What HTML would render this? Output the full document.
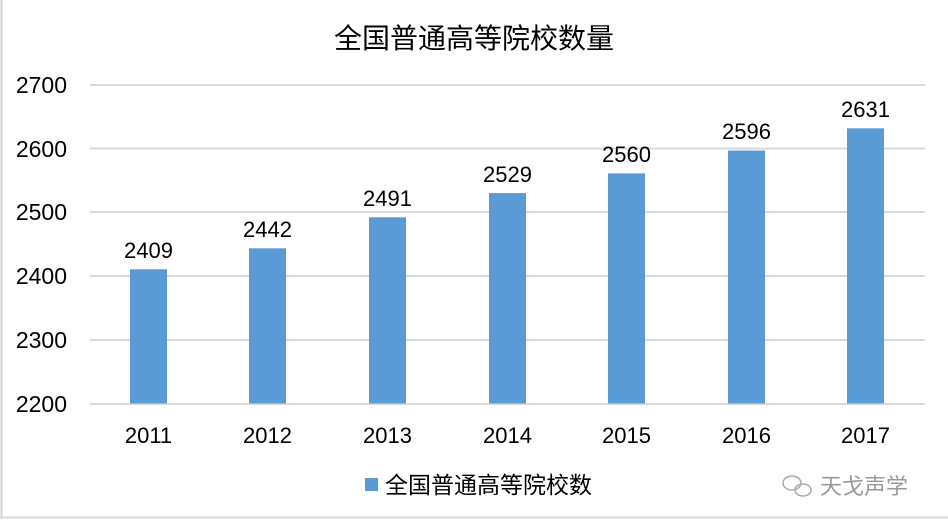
<!DOCTYPE html>
<html><head><meta charset="utf-8"><style>
body{margin:0;background:#fff}
svg text{font-family:"Liberation Sans","Noto Sans CJK SC",sans-serif;fill:#000}
</style></head><body>
<svg width="948" height="519" xmlns="http://www.w3.org/2000/svg">
<rect width="948" height="519" fill="#fff"/>
<line x1="1.5" y1="0" x2="1.5" y2="519" stroke="#d0d0d0" stroke-width="2"/>
<line x1="0" y1="517.5" x2="948" y2="517.5" stroke="#d9d9d9" stroke-width="2"/>
<text x="474" y="48" font-size="28" text-anchor="middle">全国普通高等院校数量</text>
<g stroke="#d9d9d9" stroke-width="2">
<line x1="90" y1="85" x2="925" y2="85"/>
<line x1="90" y1="148.5" x2="925" y2="148.5"/>
<line x1="90" y1="212" x2="925" y2="212"/>
<line x1="90" y1="276" x2="925" y2="276"/>
<line x1="90" y1="340" x2="925" y2="340"/>
<line x1="90" y1="404" x2="925" y2="404"/>
</g>
<g font-size="23" text-anchor="end">
<text x="67" y="93">2700</text>
<text x="67" y="157">2600</text>
<text x="67" y="220">2500</text>
<text x="67" y="284">2400</text>
<text x="67" y="348">2300</text>
<text x="67" y="412">2200</text>
</g>
<g fill="#5b9bd5">
<rect x="130" y="269.3" width="37" height="134.2"/>
<rect x="249" y="248.3" width="37" height="155.2"/>
<rect x="369" y="217.3" width="37" height="186.2"/>
<rect x="489" y="193.1" width="37" height="210.4"/>
<rect x="608" y="173.4" width="37" height="230.1"/>
<rect x="728" y="150.5" width="37" height="253"/>
<rect x="847" y="128.3" width="37" height="275.2"/>
</g>
<g font-size="22" text-anchor="middle">
<text x="148.5" y="258">2409</text>
<text x="267.5" y="237">2442</text>
<text x="387.5" y="206">2491</text>
<text x="507.5" y="182">2529</text>
<text x="626.5" y="162">2560</text>
<text x="746.5" y="139">2596</text>
<text x="865.5" y="117">2631</text>
</g>
<g font-size="22" text-anchor="middle">
<text x="148.5" y="443">2011</text>
<text x="267.5" y="443">2012</text>
<text x="387.5" y="443">2013</text>
<text x="507.5" y="443">2014</text>
<text x="626.5" y="443">2015</text>
<text x="746.5" y="443">2016</text>
<text x="865.5" y="443">2017</text>
</g>
<rect x="365" y="478" width="13" height="13" fill="#5b9bd5"/>
<text x="385" y="493" font-size="23">全国普通高等院校数</text>
<g fill="none" stroke="#aaa" stroke-width="1.5">
<ellipse cx="792" cy="483" rx="9" ry="7"/>
<ellipse cx="803" cy="490" rx="8" ry="6"/>
</g>
<text x="820" y="494" font-size="22" style="fill:#999">天戈声学</text>
</svg>
</body></html>
